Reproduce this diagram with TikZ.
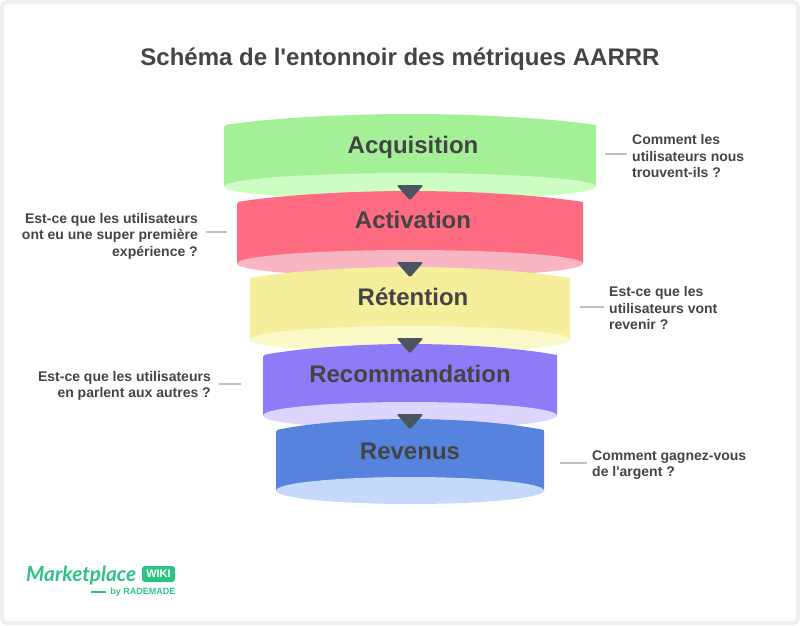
\documentclass[tikz,border=0pt]{standalone}
\usepackage{fontspec}
\setmainfont[Ligatures=TeXOff]{Liberation Sans}
\newfontfamily\logofont{Lato}
\usepackage{tikz}
\usetikzlibrary{positioning}
\definecolor{ink}{HTML}{444444}
\definecolor{tip}{HTML}{4A555F}
\definecolor{edge}{HTML}{C0C0C0}
\definecolor{frame}{HTML}{F0F0F0}
\definecolor{logo}{HTML}{2FC285}
\definecolor{acqDark}{HTML}{A3F097}
\definecolor{acqLight}{HTML}{CDFFC4}
\definecolor{actDark}{HTML}{FF6B80}
\definecolor{actLight}{HTML}{F8B6C2}
\definecolor{retDark}{HTML}{F5EE9B}
\definecolor{retLight}{HTML}{FCF9C9}
\definecolor{recDark}{HTML}{8F7BF7}
\definecolor{recLight}{HTML}{DDD5FD}
\definecolor{revDark}{HTML}{5583DD}
\definecolor{revLight}{HTML}{C4D9FC}
% half width, top corner, bottom side, body colour, inner colour
\newcommand{\Disc}[5]{
  \fill[#4, rounded corners=2pt] (410-#1,#3+1) -- (410-#1,#2) [sharp corners]
    .. controls (410-.7*#1,#2-8) and (410-.3*#1,#2-11) .. (410,#2-11)
    .. controls (410+.3*#1,#2-11) and (410+.7*#1,#2-8) .. (410+#1,#2) -- (410+#1,#3+1) -- cycle;
  \fill[#5] (410,#3+1.5) ellipse [x radius=#1, y radius=13.5];
}
\newcommand{\Tip}[1]{
  \fill[tip, rounded corners=1.5pt] (396.5,#1) -- (423.5,#1) -- (410,#1+15.5) -- cycle;
}
\begin{document}
\begin{tikzpicture}
  [
    x=1pt, y=-1pt,
    Title/.style={font=\bfseries\fontsize{24}{28}\selectfont, text=ink},
    Stage/.style={font=\bfseries\fontsize{24}{28}\selectfont, text=ink},
    Note/.style={font=\bfseries\fontsize{14}{16.6}\selectfont, text=ink, inner ysep=0pt},
    NoteR/.style={Note, align=left, anchor=west, inner xsep=5pt},
    NoteL/.style={Note, align=right, anchor=east, inner xsep=7.5pt},
    Leader/.style={draw=edge, line width=1.2pt}
  ]
  \useasboundingbox (0,0) rectangle (800,625);
  \draw[frame, line width=4pt, rounded corners=5pt] (2,2) rectangle (798,623);
  \node[Title] (title) at(400, 59) {Schéma de l'entonnoir des métriques AARRR};
  % Discs
  \Disc{186}{125}{185}{acqDark}{acqLight}
  \Disc{173}{202}{262}{actDark}{actLight}
  \Disc{160}{278}{338}{retDark}{retLight}
  \Disc{147}{355}{414}{recDark}{recLight}
  \Disc{134}{430}{489}{revDark}{revLight}
  \Tip{185}
  \Tip{262}
  \Tip{338}
  \Tip{414}
  % Nodes
  \node[Stage] (acq) at(413, 147) {Acquisition};
  \node[Stage] (act) at(413, 220) {Activation};
  \node[Stage] (ret) at(413, 297) {Rétention};
  \node[Stage] (rec) at(410, 374) {Recommandation};
  \node[Stage] (rev) at(410, 451) {Revenus};
  \node[NoteR] (acqNote) at(627, 156) {Comment les\\utilisateurs nous\\trouvent-ils ?};
  \node[NoteL] (actNote) at(205.5, 236) {Est-ce que les utilisateurs\\ont eu une super première\\expérience ?};
  \node[NoteR] (retNote) at(604, 308) {Est-ce que les\\utilisateurs vont\\revenir ?};
  \node[NoteL] (recNote) at(218.5, 386) {Est-ce que les utilisateurs\\en parlent aux autres ?};
  \node[NoteR] (revNote) at(587, 465) {Comment gagnez-vous\\de l'argent ?};
  \coordinate (acqEnd) at(605, 154);
  \coordinate (actEnd) at(227, 232);
  \coordinate (retEnd) at(580, 307);
  \coordinate (recEnd) at(241, 384);
  \coordinate (revEnd) at(560, 463);
  % Lines
  \path [Leader] (acqNote.west |- acqEnd) -- (acqEnd);
  \path [Leader] (actNote.east |- actEnd) -- (actEnd);
  \path [Leader] (retNote.west |- retEnd) -- (retEnd);
  \path [Leader] (recNote.east |- recEnd) -- (recEnd);
  \path [Leader] (revNote.west |- revEnd) -- (revEnd);
  % Logo
  \node[font=\logofont\itshape\bfseries\fontsize{20.8}{22}\selectfont, text=logo, inner sep=0pt, anchor=west] (market) at(26, 576) {Marketplace};
  \node[fill=logo, text=white, rounded corners=3pt, font=\bfseries\fontsize{11}{12}\selectfont, inner xsep=3pt, inner ysep=3pt, minimum height=16pt, minimum width=33pt] (wiki) at(158.5, 574) {WIKI};
  \node[font=\bfseries\fontsize{9}{10}\selectfont, text=logo, inner sep=0pt, anchor=east] (rademade) at(175.5, 592) {by RADEMADE};
  \coordinate (rademadeEnd) at(91, 592);
  \path [draw=logo, line width=1.5pt] (rademade.west) ++(-4,0) -- (rademadeEnd);
\end{tikzpicture}
\end{document}
